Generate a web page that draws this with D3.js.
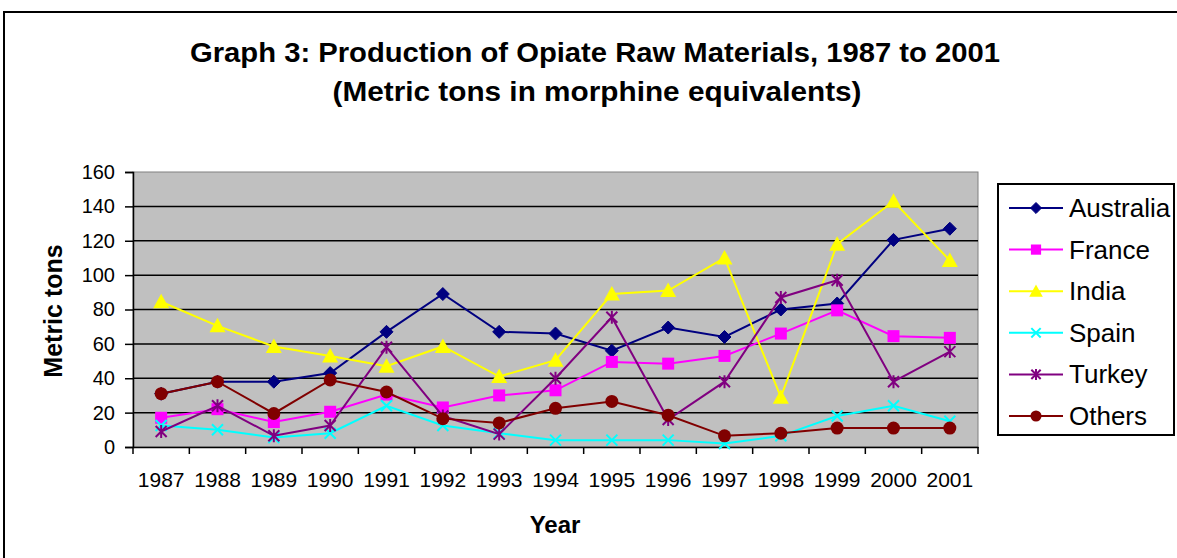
<!DOCTYPE html>
<html><head><meta charset="utf-8">
<script src="https://cdn.jsdelivr.net/npm/d3@7"></script>
<style>body{margin:0;background:#fff}svg{display:block;font-family:Arial,"Liberation Sans",sans-serif}</style>
</head><body><svg id="c" width="1177" height="558"></svg>
<script>
const years = ["1987","1988","1989","1990","1991","1992","1993","1994","1995","1996","1997","1998","1999","2000","2001"];
const australia = [31,38,38,43,67,89,67,66,56,69.5,64,80,83.5,120.5,127];
const france = [17,22,14.5,20.5,30.5,23,30,33,49.5,48.5,53,66,79.5,64.5,63.5];
const india = [84.5,70.5,58.5,53,47,58.5,41,50.5,89,91,110,29,118,143,108.5];
const spain = [12.5,10,5.5,8,24,12.5,8,4,4,4,2,6.5,18,24,15];
const turkey = [9,24,6.5,12.5,58,18,7.5,40,75.5,16,38,87,97,38,55.5];
const others = [31,38,19.5,39,32,16.5,14,22.5,26.5,18.5,6.5,8,11,11,11];
const yTicks = [0,20,40,60,80,100,120,140,160];
const seriesNames = ["Australia","France","India","Spain","Turkey","Others"];
const seriesColors = ["#000080","#FF00FF","#FFFF00","#00FFFF","#800080","#800000"];
const seriesMarkers = ["diamond","square","triangle","x","star","circle"];
const seriesValues = [australia,france,india,spain,turkey,others];

const svg = d3.select("#c");
svg.append("rect").attr("x",4).attr("y",12).attr("width",1180).attr("height",560)
  .attr("fill","#fff").attr("stroke","#000").attr("stroke-width",2);

const L=133,R=978,T=172,B=447;
const x = d3.scaleBand().domain(years).range([L,R]).padding(0);
const y = d3.scaleLinear().domain([0,160]).range([B,T]);

svg.append("rect").attr("x",L).attr("y",T).attr("width",R-L).attr("height",B-T)
  .attr("fill","#C0C0C0").attr("stroke","#808080").attr("stroke-width",1);

svg.append("g").selectAll("line").data(yTicks.filter(d=>d>0 && d<160)).join("line")
  .attr("x1",L).attr("x2",R).attr("y1",d=>y(d)).attr("y2",d=>y(d))
  .attr("stroke","#000").attr("stroke-width",1.5);

const ya = svg.append("g").attr("transform",`translate(${L},0)`)
  .call(d3.axisLeft(y).tickValues(yTicks).tickSize(8).tickPadding(10));
ya.select(".domain").attr("stroke","#000").attr("stroke-width",1.5);
ya.selectAll(".tick line").attr("stroke","#000").attr("stroke-width",1.5);
ya.selectAll("text").attr("font-size",20).attr("fill","#000").attr("font-family","Arial, Liberation Sans, sans-serif");

const xa = svg.append("g").attr("transform",`translate(0,${B})`)
  .call(d3.axisBottom(x).tickSize(0));
xa.select(".domain").attr("stroke","#000").attr("stroke-width",1.5);
xa.selectAll("text").attr("font-size",21).attr("fill","#000").attr("y",40).attr("dy",0)
  .attr("font-family","Arial, Liberation Sans, sans-serif");
const bounds = years.map(d=>x(d)).concat([R]);
svg.append("g").selectAll("line").data(bounds).join("line")
  .attr("x1",d=>d).attr("x2",d=>d).attr("y1",B).attr("y2",B+7)
  .attr("stroke","#000").attr("stroke-width",1.5);

const cx = d=>x(d)+x.bandwidth()/2;

function marker(g, type, color, px, py, s){
  s = s||1;
  if(type==="diamond"){
    g.append("path").attr("d",`M${px},${py-6.5*s}L${px+6.5*s},${py}L${px},${py+6.5*s}L${px-6.5*s},${py}Z`).attr("fill",color).attr("stroke",color);
  } else if(type==="square"){
    g.append("rect").attr("x",px-6*s).attr("y",py-6*s).attr("width",12*s).attr("height",12*s).attr("fill",color);
  } else if(type==="triangle"){
    g.append("path").attr("d",`M${px},${py-8*s}L${px+8*s},${py+6.5*s}L${px-8*s},${py+6.5*s}Z`).attr("fill",color);
  } else if(type==="x"){
    g.append("path").attr("d",`M${px-5.5*s},${py-5.5*s}L${px+5.5*s},${py+5.5*s}M${px-5.5*s},${py+5.5*s}L${px+5.5*s},${py-5.5*s}`).attr("stroke",color).attr("stroke-width",2);
  } else if(type==="star"){
    g.append("path").attr("d",`M${px-5.5*s},${py-5.5*s}L${px+5.5*s},${py+5.5*s}M${px-5.5*s},${py+5.5*s}L${px+5.5*s},${py-5.5*s}M${px},${py-6.5*s}L${px},${py+6.5*s}`).attr("stroke",color).attr("stroke-width",2);
  } else if(type==="circle"){
    g.append("circle").attr("cx",px).attr("cy",py).attr("r",6.5*s).attr("fill",color);
  }
}

const line = d3.line().x((d,i)=>cx(years[i])).y(d=>y(d));
seriesValues.forEach((vals,k)=>{
  const g = svg.append("g");
  g.append("path").datum(vals).attr("d",line).attr("fill","none")
    .attr("stroke",seriesColors[k]).attr("stroke-width",2);
  vals.forEach((v,i)=>marker(g, seriesMarkers[k], seriesColors[k], cx(years[i]), y(v)));
});

const lg = svg.append("g");
lg.append("rect").attr("x",998).attr("y",184).attr("width",176).attr("height",251)
  .attr("fill","#fff").attr("stroke","#000").attr("stroke-width",2);
seriesNames.forEach((n,k)=>{
  const ly = 208 + k*41.6;
  lg.append("line").attr("x1",1009).attr("x2",1063).attr("y1",ly).attr("y2",ly)
    .attr("stroke",seriesColors[k]).attr("stroke-width",2);
  marker(lg, seriesMarkers[k], seriesColors[k], 1036, ly, 0.85);
  lg.append("text").attr("x",1069).attr("y",ly+9).attr("font-size",26).attr("fill","#000").text(n);
});

svg.append("text").attr("x",595).attr("y",62).attr("text-anchor","middle").attr("font-size",27)
  .attr("font-weight","bold").attr("textLength",810).attr("lengthAdjust","spacingAndGlyphs")
  .text("Graph 3: Production of Opiate Raw Materials, 1987 to 2001");
svg.append("text").attr("x",597).attr("y",101).attr("text-anchor","middle").attr("font-size",27)
  .attr("font-weight","bold").attr("textLength",529).attr("lengthAdjust","spacingAndGlyphs")
  .text("(Metric tons in morphine equivalents)");
svg.append("text").attr("x",555).attr("y",533).attr("text-anchor","middle").attr("font-size",24)
  .attr("font-weight","bold").text("Year");
svg.append("text").attr("transform","translate(62,311) rotate(-90)").attr("text-anchor","middle")
  .attr("font-size",25).attr("font-weight","bold").text("Metric tons");
</script></body></html>
